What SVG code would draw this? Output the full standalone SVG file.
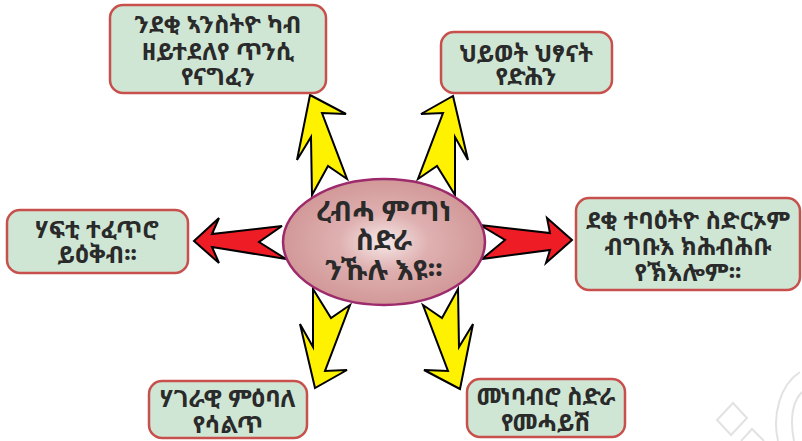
<svg xmlns="http://www.w3.org/2000/svg" width="802" height="441" viewBox="0 0 802 441">
<defs>
<radialGradient id="eg" cx="50%" cy="50%" r="50%">
<stop offset="0" stop-color="#f6e9e9"/>
<stop offset="0.45" stop-color="#dfb0b0"/>
<stop offset="1" stop-color="#d29898"/>
</radialGradient>
<style>
.box{fill:#cfe6d5;stroke:#c8504c;stroke-width:2.5}
.t{font-family:"Noto Sans Ethiopic","Abyssinica SIL","Noto Serif Ethiopic","DejaVu Sans",sans-serif;font-size:24px;font-weight:bold;fill:#2a2a2a;text-anchor:middle}
.tc{font-size:28px}
.ya{fill:#fff200;stroke:#000;stroke-width:2;stroke-linejoin:miter}
.ra{fill:#ee1c24;stroke:#000;stroke-width:2;stroke-linejoin:miter}
.wm{fill:none;stroke:#e2e2e2;stroke-width:2}
</style>
</defs>
<rect width="802" height="441" fill="#fff"/>
<g id="watermark">
<path class="wm" d="M717,420 L733,403 L747,418 L731,435 Z"/>
<path class="wm" d="M741,441 L752,429 L764,441"/>
<path class="wm" d="M800,372 C780,385 772,415 778,441"/>
<path class="wm" d="M802,392 C792,402 790,420 794,441"/>
</g>
<g id="connectors">
<polygon class="ya" points="310,95 346,114 322,113 347,179 328,166 312,195 311,137 297,160"/>
<polygon class="ya" points="453,96 468,160 455,137 455,195 437,166 418,179 443,113 421,114"/>
<polygon class="ra" points="194,241 219,218 212,234 282,226 259,242 286,259 212,247 219,263"/>
<polygon class="ra" points="480,225 550,233 547,218 572,240 546,263 550,250 482,259 505,240"/>
<polygon class="ya" points="315,388 300,324 313,347 313,289 331,318 350,305 325,371 347,370"/>
<polygon class="ya" points="460,389 424,370 448,371 423,305 442,318 458,289 459,347 473,324"/>
</g>
<g id="center">
<ellipse cx="384" cy="242" rx="101" ry="63" fill="url(#eg)" stroke="#9c2a6c" stroke-width="2.5"/>
<text class="t tc" x="384" y="221">ረብሓ ምጣነ</text>
<text class="t tc" x="384" y="250">ስድራ</text>
<text class="t tc" x="384" y="280">ንኹሉ እዩ፡፡</text>
</g>
<g id="n1">
<rect class="box" x="110" y="5" width="216" height="88" rx="13"/>
<text class="t" x="218" y="33">ንደቂ ኣንስትዮ ካብ</text>
<text class="t" x="218" y="60">ዘይተደለየ ጥንሲ</text>
<text class="t" x="218" y="85">የናግፈን</text>
</g>
<g id="n2">
<rect class="box" x="441" y="32" width="171" height="61" rx="13"/>
<text class="t" x="526" y="62">ህይወት ህፃናት</text>
<text class="t" x="526" y="85">የድሕን</text>
</g>
<g id="n3">
<rect class="box" x="7" y="210" width="181" height="63" rx="13"/>
<text class="t" x="97" y="238">ሃፍቲ ተፈጥሮ</text>
<text class="t" x="97" y="263">ይዕቅብ፡፡</text>
</g>
<g id="n4">
<rect class="box" x="576" y="198" width="224" height="92" rx="13"/>
<text class="t" x="688" y="229">ደቂ ተባዕትዮ ስድርኦም</text>
<text class="t" x="688" y="255">ብግቡእ ክሕብሕቡ</text>
<text class="t" x="688" y="281">የኽእሎም፡፡</text>
</g>
<g id="n5">
<rect class="box" x="149" y="381" width="158" height="57" rx="13"/>
<text class="t" x="228" y="407">ሃገራዊ ምዕባለ</text>
<text class="t" x="228" y="433">የሳልጥ</text>
</g>
<g id="n6">
<rect class="box" x="467" y="379" width="158" height="58" rx="13"/>
<text class="t" x="546" y="405">መነባብሮ ስድራ</text>
<text class="t" x="546" y="431">የመሓይሽ</text>
</g>
</svg>
